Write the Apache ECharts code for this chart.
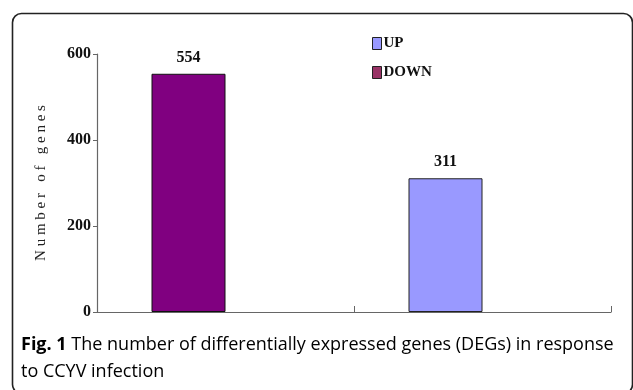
<!DOCTYPE html>
<html>
<head>
<meta charset="utf-8">
<script src="https://cdn.jsdelivr.net/npm/echarts@6/dist/echarts.min.js"></script>
<style>
  html, body { margin: 0; padding: 0; background: #fff; }
  #chart { width: 633px; height: 390px; }
</style>
</head>
<body>
<div id="chart"></div>
<script>
// DEG counts in response to CCYV infection
const categories = ['DOWN', 'UP'];
const downValues = [554, '-'];
const upValues = ['-', 311];
const yTicks = { min: 0, max: 600, interval: 200 };
const seriesNames = ['UP', 'DOWN'];
const yTitle = 'N u m b e r   o f   g e n e s';
const captionBold = 'Fig. 1';
const captionLine1 = ' The number of differentially expressed genes (DEGs) in response';
const captionLine2 = 'to CCYV infection';

const labelFont = 'Liberation Serif';
const chart = echarts.init(document.getElementById('chart'), null, { renderer: 'canvas' });

const valueLabel = {
  show: true,
  position: 'top',
  distance: 8,
  color: '#111',
  fontFamily: labelFont,
  fontWeight: 'bold',
  fontSize: 16
};

chart.setOption({
  animation: false,
  backgroundColor: '#fff',
  grid: { left: 97, right: 22, top: 54, bottom: 78, containLabel: false },
  legend: {
    orient: 'vertical',
    left: 367,
    top: 31,
    itemGap: 14,
    itemWidth: 9,
    itemHeight: 12,
    icon: 'rect',
    textStyle: { fontFamily: labelFont, fontWeight: 'bold', fontSize: 15, color: '#111', padding: [0, 0, 0, -3] },
    data: [
      { name: seriesNames[0], itemStyle: { color: '#9999ff', borderColor: '#222', borderWidth: 1 } },
      { name: seriesNames[1], itemStyle: { color: '#993366', borderColor: '#222', borderWidth: 1 } }
    ]
  },
  xAxis: {
    type: 'category',
    data: categories,
    boundaryGap: true,
    axisLine: { lineStyle: { color: '#666', width: 1.2 } },
    axisTick: { show: true, inside: true, length: 6, lineStyle: { color: '#666' } },
    axisLabel: { show: false },
    splitLine: { show: false }
  },
  yAxis: {
    type: 'value',
    min: yTicks.min,
    max: yTicks.max,
    interval: yTicks.interval,
    name: yTitle,
    nameLocation: 'middle',
    nameGap: 48,
    nameRotate: 90,
    nameTextStyle: { fontFamily: 'Liberation Serif', fontSize: 15, color: '#222' },
    axisLine: { show: true, lineStyle: { color: '#666', width: 1.2 } },
    axisTick: { show: true, length: 4, lineStyle: { color: '#666' } },
    axisLabel: { fontFamily: labelFont, fontWeight: 'bold', fontSize: 16, color: '#111', margin: 6 },
    splitLine: { show: false }
  },
  series: [
    {
      name: 'DOWN',
      type: 'bar',
      stack: 'deg',
      data: downValues,
      barWidth: 74,
      barGap: '0%',
      itemStyle: { color: '#800080', borderColor: '#111', borderWidth: 1 },
      label: valueLabel
    },
    {
      name: 'UP',
      type: 'bar',
      stack: 'deg',
      data: upValues,
      barWidth: 74,
      barGap: '0%',
      itemStyle: { color: '#9999ff', borderColor: '#222', borderWidth: 1 },
      label: valueLabel
    },
    {
      // empty bar slot keeps the bars left of each category centre
      type: 'bar',
      stack: 'spacer',
      data: [],
      barWidth: 74,
      barGap: '0%'
    }
  ],
  graphic: [
    {
      type: 'rect',
      shape: { x: 12.5, y: 13.5, width: 620, height: 380, r: 9 },
      style: { fill: 'none', stroke: '#222', lineWidth: 1.6 },
      silent: true
    },
    {
      type: 'text',
      left: 21,
      top: 336,
      style: {
        text: '{b|' + captionBold + '}{r|' + captionLine1 + '}\n{r|' + captionLine2 + '}',
        rich: {
          b: { fontFamily: 'Open Sans', fontWeight: 'bold', fontSize: 18, color: '#222', lineHeight: 27 },
          r: { fontFamily: 'Open Sans', fontSize: 18, color: '#333', lineHeight: 27 }
        }
      }
    }
  ]
});
</script>
</body>
</html>
